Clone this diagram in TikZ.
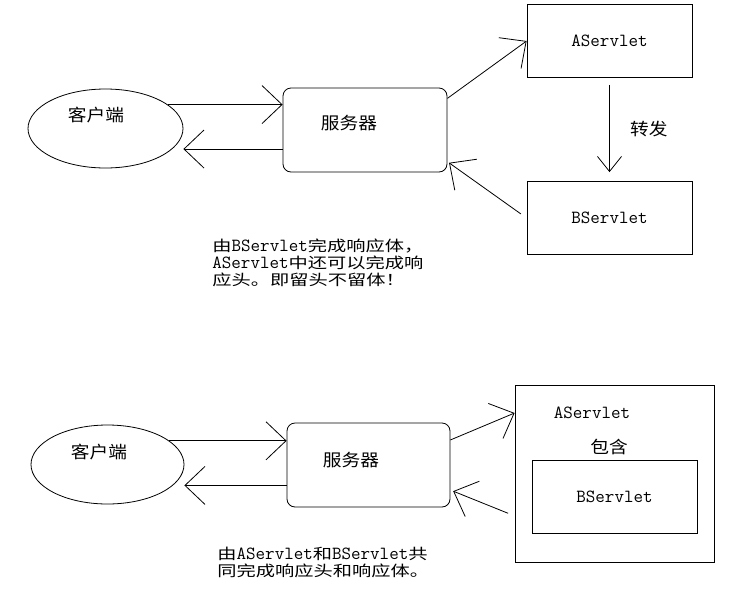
\documentclass[tikz,border=0pt]{standalone}
\usepackage{fontspec}
\newfontfamily\cjk[FakeStretch=1.1]{Noto Sans CJK SC}
\newfontfamily\cjknote[FakeStretch=1.3]{Noto Sans CJK SC}
\usepackage{tikz}
\usetikzlibrary{arrows.meta,shapes.geometric}
\newcommand{\sv}[1]{{\fontsize{18.5}{17}\ttfamily #1}}

\begin{document}
\begin{tikzpicture}[x=1pt,y=-1pt
	,>={Straight Barb[length=20pt,width=38pt]}
	,line width=0.8pt
	,font=\cjk\fontsize{17}{17}\selectfont]
  \tikzstyle{client}=[draw,ellipse,minimum width=155pt,minimum height=79pt,inner sep=0pt]
  \tikzstyle{server}=[draw,rounded corners=8pt,minimum width=164pt,minimum height=84pt,inner sep=0pt]
  \tikzstyle{servlet}=[draw,minimum width=165pt,minimum height=73pt,inner sep=0pt]
  \tikzstyle{note}=[align=left,anchor=north west,inner sep=0pt
	,font=\cjknote\fontsize{14.8}{17}\selectfont]

  \useasboundingbox (0,0) rectangle (732,606);

  % forward: A forwards to B
  \node[client](cl1) at (105.5,128.5) {};
  \node(cl1txt) at (96,115) {客户端};
  \node[server](sv1) at (365,130) {};
  \node(sv1txt) at (349,123) {服务器};
  \node[servlet](a1) at (609.5,41) {\sv{AServlet}};
  \node[servlet](b1) at (609.5,218) {\sv{BServlet}};
  \node[note](note1) at (212,239)
    {由\sv{BServlet}完成响应体，\\\sv{AServlet}中还可以完成响\\应头。即留头不留体！};

  \draw[->] (cl1.21)  -- (cl1.21 -| sv1.west);
  \draw[->] (sv1.193) -- (sv1.193 -| cl1.east);
  \draw[->] (sv1.21)  -- (a1.west);
  \draw[->,shorten <=7pt,shorten >=2pt] (b1.west) -- (sv1.-21);
  \draw[-{Straight Barb[length=15pt,width=24pt]},shorten <=7pt,shorten >=9pt]
    (a1.south) -- node[right=17pt] {转发} (b1.north);

  % include: A includes B
  \node[client,minimum width=153pt](cl2) at (107.5,464.5) {};
  \node(cl2txt) at (99,452) {客户端};
  \node[server,minimum width=163pt](sv2) at (368.5,465) {};
  \node(sv2txt) at (351,460) {服务器};
  \node[draw,minimum width=199pt,minimum height=177pt,inner sep=0pt](a2) at (614.5,473.5) {};
  \node(a2txt) at (592,413) {\sv{AServlet}};
  \node(incl) at (609,447) {包含};
  \node[servlet](b2) at (614.5,496.5) {\sv{BServlet}};
  \node[note](note2) at (217,547)
    {由\sv{AServlet}和\sv{BServlet}共\\同完成响应头和响应体。};

  \draw[->] (cl2.21)  -- (cl2.21 -| sv2.west);
  \draw[->] (sv2.194) -- (sv2.194 -| cl2.east);
  \draw[->] (sv2.17)  -- (a2.west |- a2txt.center);
  \draw[->,shorten <=7pt,shorten >=3pt] (a2.203) -- (sv2.-17);
\end{tikzpicture}
\end{document}
